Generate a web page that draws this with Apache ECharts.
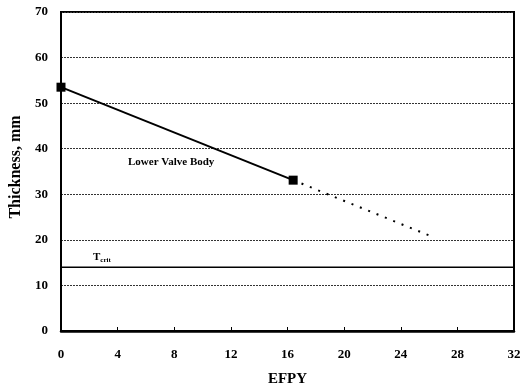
<!DOCTYPE html>
<html>
<head>
<meta charset="utf-8">
<script src="https://cdn.jsdelivr.net/npm/echarts@6/dist/echarts.min.js"></script>
<style>
html,body{margin:0;padding:0;background:#fff;}
#chart{width:529px;height:389px;}
</style>
</head>
<body>
<div id="chart"></div>
<script>
// Wall thickness of the lower valve body versus effective full-power years
var measuredEfpy = [0, 16.4];
var measuredThickness = [53.5, 33.1];
var projectedEfpy = [16.4, 26.3];
var projectedThickness = [33.1, 20.6];
var criticalThickness = 14;
var xTicks = [0, 4, 8, 12, 16, 20, 24, 28, 32];
var yTicks = [0, 10, 20, 30, 40, 50, 60, 70];

var serif = '"Liberation Serif", "DejaVu Serif", serif';

function pairs(xs, ys) {
  return xs.map(function (x, i) { return [x, ys[i]]; });
}

var chart = echarts.init(document.getElementById('chart'), null, { renderer: 'canvas' });
chart.setOption({
  animation: false,
  backgroundColor: '#fff',
  grid: {
    left: 61, right: 15, top: 12, bottom: 58,
    containLabel: false, outerBoundsMode: 'none',
    show: true, borderColor: '#000', borderWidth: 2
  },
  xAxis: {
    type: 'value',
    min: xTicks[0], max: xTicks[xTicks.length - 1], interval: 4,
    name: 'EFPY', nameLocation: 'middle', nameGap: 41,
    nameTextStyle: { fontFamily: serif, fontWeight: 'bold', fontSize: 15, color: '#000' },
    axisLine: { lineStyle: { color: '#000', width: 2.5 } },
    axisTick: { inside: true, length: 4, lineStyle: { color: '#000' } },
    axisLabel: { fontFamily: serif, fontWeight: 'bold', fontSize: 13, color: '#000', margin: 17 },
    splitLine: { show: false }
  },
  yAxis: {
    type: 'value',
    min: yTicks[0], max: yTicks[yTicks.length - 1], interval: 10,
    name: 'Thickness, mm', nameLocation: 'middle', nameGap: 30,
    nameTextStyle: { fontFamily: serif, fontWeight: 'bold', fontSize: 16, color: '#000', padding: [0, 0, 0, 9] },
    axisLine: { lineStyle: { color: '#000', width: 2 } },
    axisTick: { show: false },
    axisLabel: { fontFamily: serif, fontWeight: 'bold', fontSize: 13, color: '#000', margin: 13 },
    splitLine: { show: true, lineStyle: { color: '#333', type: [2, 1], width: 1 } }
  },
  series: [
    {
      type: 'line',
      data: pairs(measuredEfpy, measuredThickness),
      symbol: 'rect', symbolSize: 9,
      itemStyle: { color: '#000' },
      lineStyle: { color: '#000', width: 2 },
      z: 5
    },
    {
      type: 'line',
      data: pairs(projectedEfpy, projectedThickness),
      showSymbol: false,
      lineStyle: { color: '#000', width: 2, type: [2, 7] },
      z: 4
    },
    {
      type: 'line',
      data: [[xTicks[0], criticalThickness], [xTicks[xTicks.length - 1], criticalThickness]],
      showSymbol: false,
      lineStyle: { color: '#000', width: 1.5 },
      z: 3
    }
  ],
  graphic: [
    {
      type: 'text', left: 128, top: 157,
      style: { text: 'Lower Valve Body', font: 'bold 11px ' + serif, fill: '#000' }
    },
    {
      type: 'text', left: 93, top: 252,
      style: {
        text: '{t|T}{s|crit}',
        rich: {
          t: { font: 'bold 11px ' + serif, fill: '#000' },
          s: { font: 'bold 7px ' + serif, fill: '#000', padding: [5, 0, 0, 0] }
        }
      }
    }
  ]
});
</script>
</body>
</html>
